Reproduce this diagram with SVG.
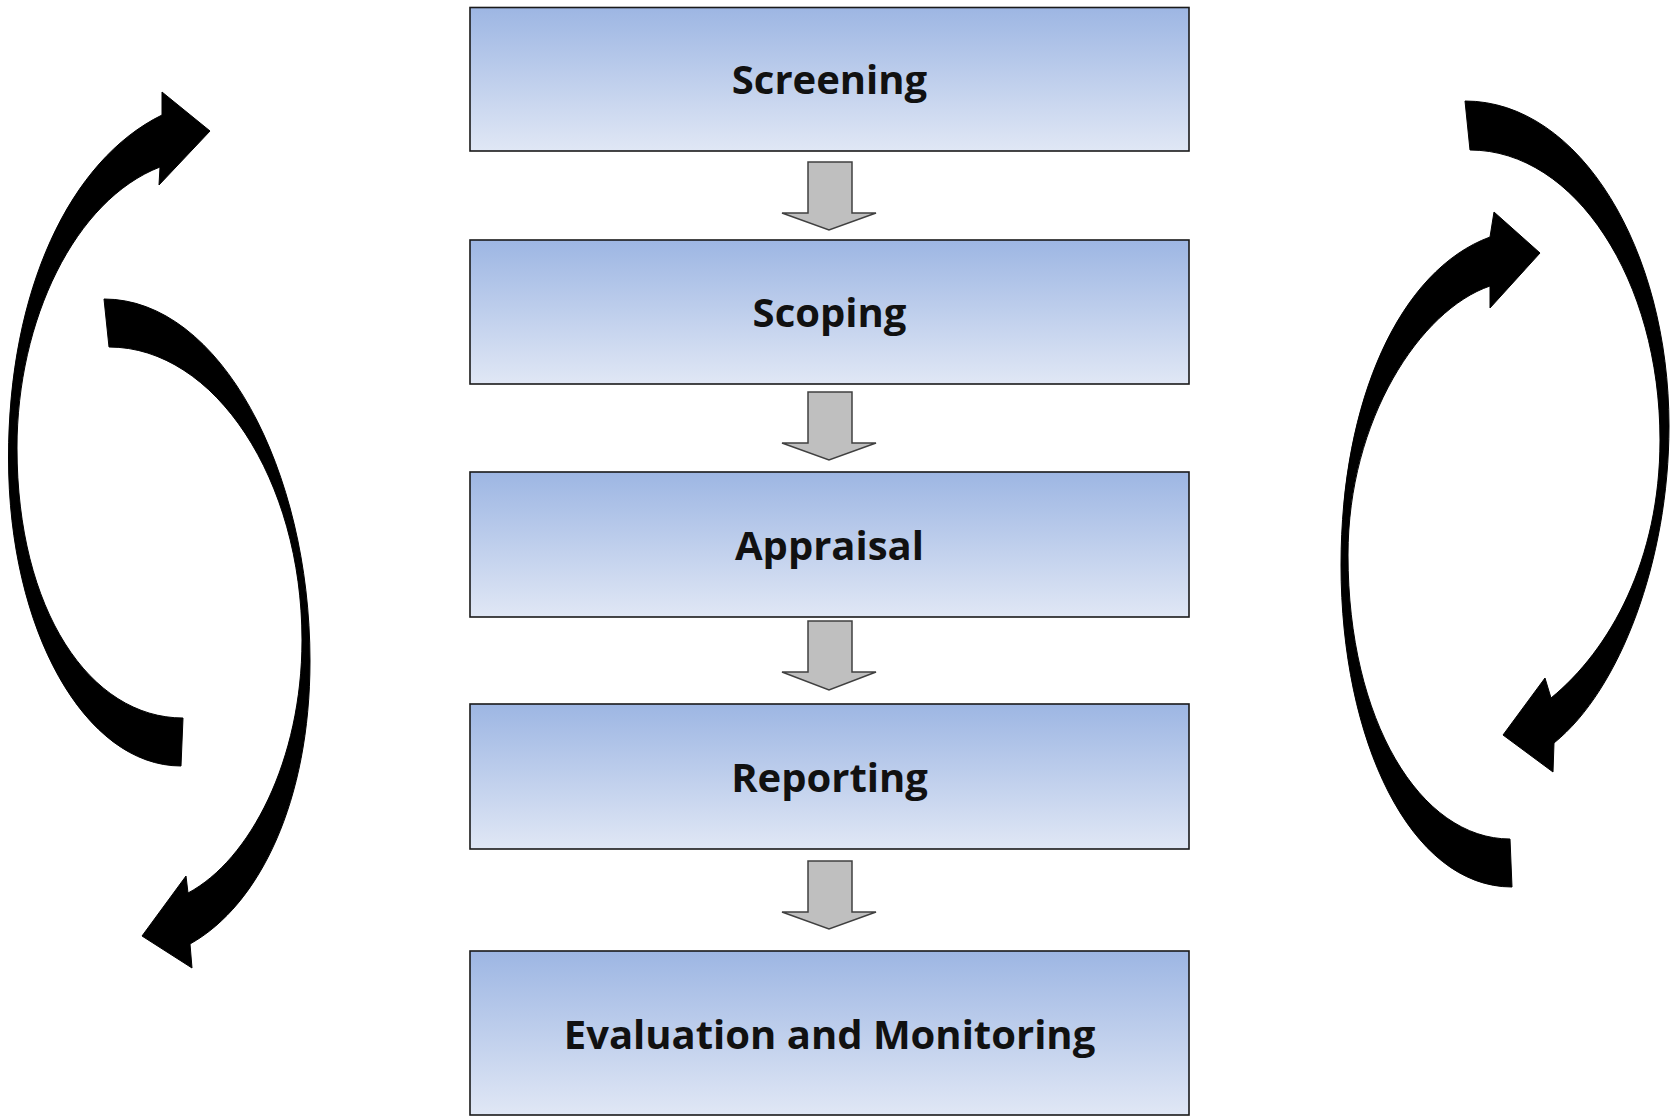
<svg xmlns="http://www.w3.org/2000/svg" width="1671" height="1117" viewBox="0 0 1671 1117">
<defs>
<linearGradient id="bg" x1="0" y1="0" x2="0" y2="1">
<stop offset="0" stop-color="#9db6e3"/>
<stop offset="1" stop-color="#e0e7f5"/>
</linearGradient>
<style>
.box{fill:url(#bg);stroke:#1a1a1a;stroke-width:1.6}
.lbl{font-family:"Open Sans","Liberation Sans",sans-serif;font-weight:700;font-size:40px;fill:#111;text-anchor:middle}
.down{fill:#bfbfbf;stroke:#404040;stroke-width:1.5;stroke-linejoin:miter}
.curve{fill:#000;stroke:#000;stroke-width:1;stroke-linejoin:round}
</style>
</defs>
<rect width="1671" height="1117" fill="#fff"/>
<g id="screening"><rect class="box" x="470" y="7.5" width="719" height="143.5"/><text class="lbl" x="829.5" y="94">Screening</text></g>
<g id="scoping"><rect class="box" x="470" y="240" width="719" height="144"/><text class="lbl" x="829.5" y="327">Scoping</text></g>
<g id="appraisal"><rect class="box" x="470" y="472" width="719" height="145"/><text class="lbl" x="829.5" y="560">Appraisal</text></g>
<g id="reporting"><rect class="box" x="470" y="704" width="719" height="145"/><text class="lbl" x="829.5" y="792">Reporting</text></g>
<g id="evaluation"><rect class="box" x="470" y="951" width="719" height="164"/><text class="lbl" x="829.5" y="1049">Evaluation and Monitoring</text></g>
<g id="connectors">
<path class="down" d="M808 162 H852 V213 H876 L829 230 L782 213 H808 Z"/>
<path class="down" d="M808 392 H852 V443 H876 L829 460 L782 443 H808 Z"/>
<path class="down" d="M808 621 H852 V672 H876 L829 690 L782 672 H808 Z"/>
<path class="down" d="M808 861 H852 V912 H876 L829 929 L782 912 H808 Z"/>
<path class="curve" d="M181 766 C85 766 8.5 630 8.5 458 C8.5 290 70 160 162 115 L162 92 L210 131 L159 185 L160 167 C75 200 17 320 17 448 C17 610 90 718 183 718 Z"/>
<path class="curve" d="M104 299 C220 299 310 470 310 661 C310 800 260 905 190 944 L192 968 L142 936 L186 876 L188 893 C250 860 302 760 302 640 C302 480 215 347 109 347 Z"/>
<path class="curve" d="M1465 101 C1580 101 1669 250 1669 426 C1669 560 1620 690 1554 743 L1553 772 L1503 735 L1545 678 L1551 698 C1610 650 1660 560 1660 440 C1660 280 1575 150 1470 150 Z"/>
<path class="curve" d="M1512 887 C1410 887 1341 740 1341 565 C1341 400 1400 270 1490 237 L1494 212 L1540 253 L1490 308 L1490 286 C1420 310 1348 420 1348 555 C1348 720 1420 839 1510 839 Z"/>
</g>
</svg>
